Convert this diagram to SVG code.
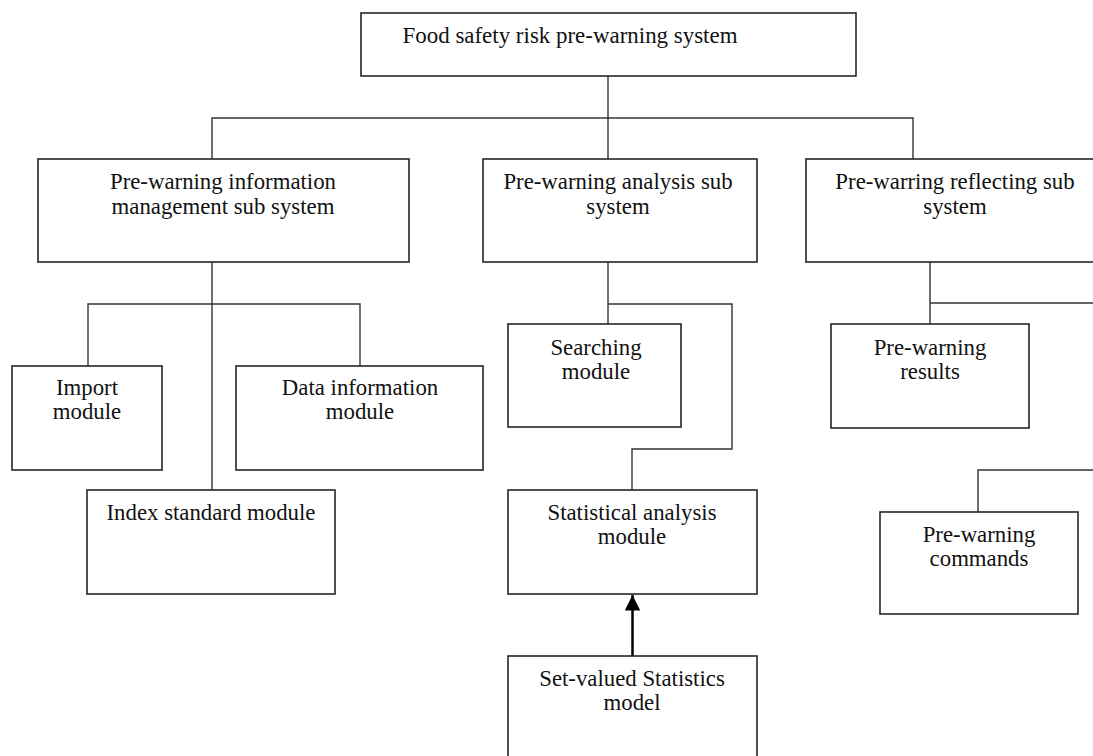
<svg xmlns="http://www.w3.org/2000/svg" width="1093" height="756" viewBox="0 0 1093 756">
<style>
.box{fill:#fff;stroke:#262626;stroke-width:1.6}
.ln{fill:none;stroke:#333;stroke-width:1.4}
text{font-family:"Liberation Serif","Times New Roman",serif;font-size:22.8px;fill:#111;text-anchor:middle}
</style>
<defs>
<marker id="ah" viewBox="0 0 10 10" refX="10" refY="5" markerWidth="6.6" markerHeight="6.2" orient="auto" markerUnits="strokeWidth">
<path d="M0,0 L10,5 L0,10 z" fill="#000"/>
</marker>
</defs>
<rect width="1093" height="756" fill="#fff"/>
<g id="connectors">
<path class="ln" d="M608,76 V118 M212,159 V118 H913 V159 M608,118 V159"/>
<path class="ln" d="M212,262 V490 M88,366 V304 H360 V366"/>
<path class="ln" d="M608,262 V324 M608,304 H732 V449 H632 V490"/>
<path class="ln" d="M930,262 V324 M930,303 H1093"/>
<path class="ln" d="M978,512 V470 H1093"/>
<line x1="632.5" y1="656" x2="632.5" y2="595" stroke="#000" stroke-width="2.5" marker-end="url(#ah)"/>
</g>
<g id="n-top"><rect class="box" x="361" y="13" width="495" height="63"/><text x="570" y="43" textLength="335" lengthAdjust="spacingAndGlyphs">Food safety risk pre-warning system</text></g>
<g id="n-info"><rect class="box" x="38" y="159" width="371" height="103"/><text x="223" y="189">Pre-warning information</text><text x="223" y="214">management sub system</text></g>
<g id="n-analysis"><rect class="box" x="483" y="159" width="274" height="103"/><text x="618" y="189">Pre-warning analysis sub</text><text x="618" y="214">system</text></g>
<g id="n-reflect"><rect class="box" x="806" y="159" width="300" height="103"/><text x="955" y="189">Pre-warring reflecting sub</text><text x="955" y="214">system</text></g>
<g id="n-import"><rect class="box" x="12" y="366" width="150" height="104"/><text x="87" y="395">Import</text><text x="87" y="419">module</text></g>
<g id="n-data"><rect class="box" x="236" y="366" width="247" height="104"/><text x="360" y="395">Data information</text><text x="360" y="419">module</text></g>
<g id="n-index"><rect class="box" x="87" y="490" width="248" height="104"/><text x="211" y="520">Index standard module</text></g>
<g id="n-search"><rect class="box" x="508" y="324" width="173" height="103"/><text x="596" y="355">Searching</text><text x="596" y="379">module</text></g>
<g id="n-stat"><rect class="box" x="508" y="490" width="249" height="104"/><text x="632" y="520">Statistical analysis</text><text x="632" y="544">module</text></g>
<g id="n-setvalued"><rect class="box" x="508" y="656" width="249" height="110"/><text x="632" y="686">Set-valued Statistics</text><text x="632" y="710">model</text></g>
<g id="n-results"><rect class="box" x="831" y="324" width="198" height="104"/><text x="930" y="355">Pre-warning</text><text x="930" y="379">results</text></g>
<g id="n-commands"><rect class="box" x="880" y="512" width="198" height="102"/><text x="979" y="542">Pre-warning</text><text x="979" y="566">commands</text></g>
</svg>
